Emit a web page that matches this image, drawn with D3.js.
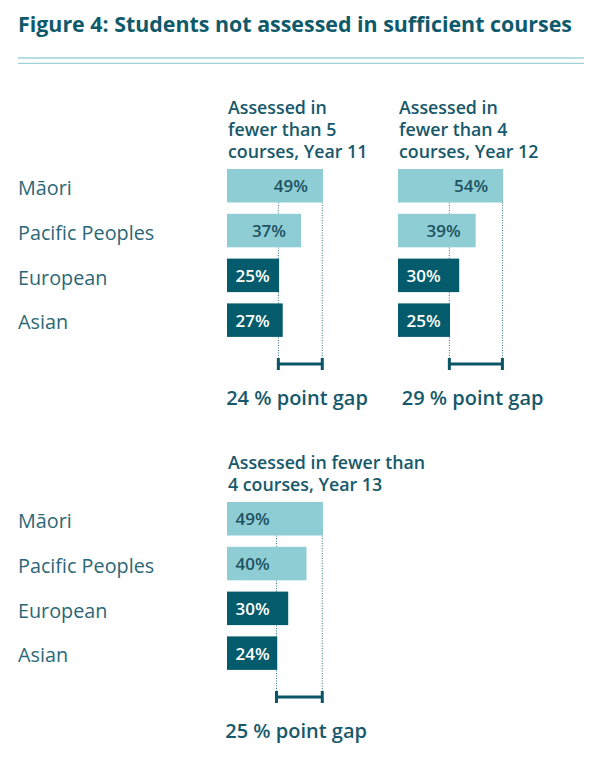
<!DOCTYPE html>
<html>
<head>
<meta charset="utf-8">
<script src="https://cdn.jsdelivr.net/npm/d3@7"></script>
<style>
  body { margin: 0; background: #fff; }
  text { font-family: "Open Sans", Lato, sans-serif; }
</style>
</head>
<body>
<div id="chart"></div>
<script>
// data
var groups = ["Māori", "Pacific Peoples", "European", "Asian"];
var year11 = [49, 37, 25, 27];
var year12 = [54, 39, 30, 25];
var year13 = [49, 40, 30, 24];
var panelTitles = [
    ["Assessed in", "fewer than 5", "courses, Year 11"],
    ["Assessed in", "fewer than 4", "courses, Year 12"],
    ["Assessed in fewer than", "4 courses, Year 13"]
];
var title = "Figure 4: Students not assessed in sufficient courses";

var width = 600, height = 758;
var darkTeal = "#045b6b", lightTeal = "#8fcdd5", textTeal = "#17596a";

var svg = d3.select("#chart").append("svg")
    .attr("width", width)
    .attr("height", height);

svg.append("text")
    .attr("x", 18)
    .attr("y", 32)
    .attr("font-size", 21.4)
    .attr("font-weight", 700)
    .attr("fill", "#0e5a6a")
    .text(title);

// double rule under the title
[58, 63.4].forEach(function(y) {
    svg.append("line")
        .attr("x1", 18).attr("x2", 584)
        .attr("y1", y).attr("y2", y)
        .attr("stroke", "#9fd3d9")
        .attr("stroke-width", 1.3);
});

// bar length scale (same for all three panels); bars have a small stub at 0
var xScale = d3.scaleLinear().domain([0, 100]).range([6.3, 189.3]);

var panels = [
    {values: year11, titleLines: panelTitles[0], left: 227, top: 169, rightAlignLight: true},
    {values: year12, titleLines: panelTitles[1], left: 398, top: 169, rightAlignLight: true},
    {values: year13, titleLines: panelTitles[2], left: 227, top: 502, rightAlignLight: false}
];

var rowStep = 44.8, barH = 33.5;

function bandFor(top) {
    return d3.scaleBand().domain(groups)
        .range([top, top + rowStep * (groups.length - 1) + barH])
        .paddingInner(1 - barH / rowStep).paddingOuter(0).align(0);
}

// group labels at the left, one set per row of panels
[169, 502].forEach(function(top) {
    var yScale = bandFor(top);
    svg.append("g").selectAll("text")
        .data(groups)
        .enter().append("text")
        .attr("x", 18)
        .attr("y", function(d) { return yScale(d) + yScale.bandwidth() / 2 + 9.3; })
        .attr("font-size", 19.8)
        .attr("fill", "#2b6777")
        .text(function(d) { return d; });
});

panels.forEach(function(p) {
    var g = svg.append("g").attr("transform", "translate(" + p.left + ",0)");
    var yScale = bandFor(p.top);

    // header, bottom-aligned over the bars
    var n = p.titleLines.length;
    g.append("g").selectAll("text")
        .data(p.titleLines)
        .enter().append("text")
        .attr("x", 1)
        .attr("y", function(d, i) { return p.top - 11 - (n - 1 - i) * 22; })
        .attr("font-size", 17.8)
        .attr("font-weight", 600)
        .attr("fill", textTeal)
        .text(function(d) { return d; });

    var maxV = d3.max(p.values), minV = d3.min(p.values);
    var gapY = p.top + 195;

    // dotted guides at the highest and lowest value
    [minV, maxV].forEach(function(v) {
        g.append("line")
            .attr("x1", xScale(v) - 0.7).attr("x2", xScale(v) - 0.7)
            .attr("y1", yScale(groups[0]) + barH).attr("y2", gapY)
            .attr("stroke", "#2f7382")
            .attr("stroke-width", 1)
            .attr("stroke-dasharray", "1,1.5");
    });

    g.append("g").selectAll("rect")
        .data(p.values)
        .enter().append("rect")
        .attr("x", 0)
        .attr("y", function(d, i) { return yScale(groups[i]); })
        .attr("width", function(d) { return xScale(d); })
        .attr("height", yScale.bandwidth())
        .attr("fill", function(d, i) { return i < 2 ? lightTeal : darkTeal; });

    g.append("g").selectAll("text")
        .data(p.values)
        .enter().append("text")
        .attr("x", function(d, i) {
            return (i < 2 && p.rightAlignLight) ? xScale(d) - 15 : 8.5;
        })
        .attr("y", function(d, i) { return yScale(groups[i]) + yScale.bandwidth() / 2 + 6.5; })
        .attr("text-anchor", function(d, i) { return (i < 2 && p.rightAlignLight) ? "end" : "start"; })
        .attr("font-size", 17)
        .attr("font-weight", 600)
        .attr("fill", function(d, i) { return i < 2 ? "#1c5261" : "#ffffff"; })
        .text(function(d) { return d + "%"; });

    // gap bracket
    var bracket = g.append("g").attr("stroke", "#0a5566").attr("stroke-width", 3);
    bracket.append("line")
        .attr("x1", xScale(minV) - 0.7).attr("x2", xScale(maxV) - 0.7)
        .attr("y1", gapY).attr("y2", gapY);
    [minV, maxV].forEach(function(v) {
        bracket.append("line")
            .attr("x1", xScale(v) - 0.7).attr("x2", xScale(v) - 0.7)
            .attr("y1", gapY - 6).attr("y2", gapY + 6);
    });

    g.append("text")
        .attr("x", (xScale(minV) + xScale(maxV)) / 2 - 4)
        .attr("y", p.top + 236)
        .attr("text-anchor", "middle")
        .attr("font-size", 20)
        .attr("font-weight", 600)
        .attr("fill", textTeal)
        .text((maxV - minV) + " % point gap");
});
</script>
</body>
</html>
